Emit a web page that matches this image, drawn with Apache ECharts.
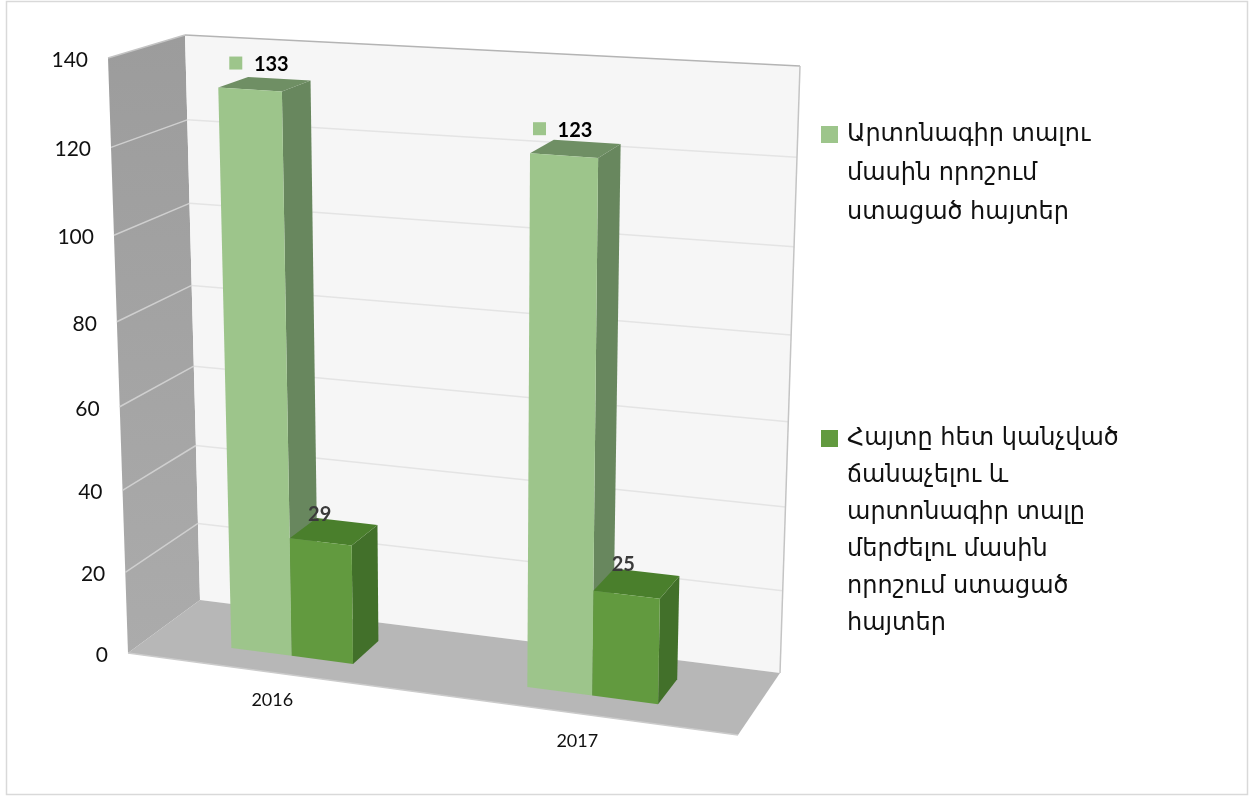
<!DOCTYPE html>
<html>
<head>
<meta charset="utf-8">
<style>
  html, body { margin: 0; padding: 0; background: #fff; }
  #chart { width: 1255px; height: 798px; }
</style>
<script src="https://cdn.jsdelivr.net/npm/echarts@6/dist/echarts.min.js"></script>
</head>
<body>
<div id="chart"></div>
<script>
const categories = ['2016', '2017'];
const yTicks = [0, 20, 40, 60, 80, 100, 120, 140];
const grantedValues = [133, 123];
const rejectedValues = [29, 25];
const grantedName = 'Արտոնագիր տալու մասին որոշում ստացած հայտեր';
const rejectedName = 'Հայտը հետ կանչված ճանաչելու և արտոնագիր տալը մերժելու մասին որոշում ստացած հայտեր';
const grantedLines = ['Արտոնագիր տալու', 'մասին որոշում', 'ստացած հայտեր'];
const rejectedLines = ['Հայտը հետ կանչված', 'ճանաչելու և', 'արտոնագիր տալը', 'մերժելու մասին', 'որոշում ստացած', 'հայտեր'];

// corners of the 3d box on screen, the plot is bent onto them
const front = { tl: [108, 58], tr: [752, 99], bl: [128, 653], br: [738, 735] };
const back = { tl: [185, 35], tr: [800, 66], bl: [200, 600], br: [780, 673] };
const barHalf = 0.105;
const barNear = 0.3;
const barFar = 0.71;
const labelFont = 'Lato, "Liberation Sans", sans-serif';
const legendFont = '"DejaVu Sans", sans-serif';

function mix(a, b, t) {
  return [a[0] + (b[0] - a[0]) * t, a[1] + (b[1] - a[1]) * t];
}

function project(u, v, d) {
  // small correction, the original has real perspective
  const uu = u - 0.072 * u * (1 - u);
  const vv = v - 0.06 * v * (1 - v);
  const f = mix(mix(front.bl, front.br, uu), mix(front.tl, front.tr, uu), vv);
  const b = mix(mix(back.bl, back.br, uu), mix(back.tl, back.tr, uu), vv);
  return mix(f, b, d);
}

function normalize(params, api, cat, val) {
  const cs = params.coordSys;
  const p = api.coord([cat, val]);
  return [(p[0] - cs.x) / cs.width, (cs.y + cs.height - p[1]) / cs.height];
}

function poly(points, fill) {
  return { type: 'polygon', shape: { points: points }, style: { fill: fill } };
}

function line(a, b, color, width) {
  return {
    type: 'line',
    shape: { x1: a[0], y1: a[1], x2: b[0], y2: b[1] },
    style: { stroke: color, lineWidth: width }
  };
}

function label(text, x, y, size, weight, color) {
  return {
    type: 'text',
    style: {
      text: text, x: x, y: y, fill: color,
      fontFamily: labelFont, fontSize: size, fontWeight: weight,
      textAlign: 'center', textVerticalAlign: 'middle'
    }
  };
}

function renderBox(params, api) {
  const sideWall = new echarts.graphic.LinearGradient(0, 0, 0, 1, [
    { offset: 0, color: '#9c9c9c' },
    { offset: 1, color: '#ababab' }
  ]);
  const children = [
    poly([project(0, 0, 0), project(0, 1, 0), project(0, 1, 1), project(0, 0, 1)], sideWall),
    poly([project(0, 0, 1), project(0, 1, 1), project(1, 1, 1), project(1, 0, 1)], '#f6f6f6'),
    poly([project(0, 0, 0), project(0, 0, 1), project(1, 0, 1), project(1, 0, 0)], '#b7b7b7')
  ];
  yTicks.forEach(function (t) {
    const v = normalize(params, api, 0, t)[1];
    if (t > 0 && t < 140) {
      children.push(line(project(0, v, 0), project(0, v, 1), '#cfcfcf', 1.5));
      children.push(line(project(0, v, 1), project(1, v, 1), '#e4e4e4', 1.5));
    }
    const p = project(0, v, 0);
    children.push({
      type: 'text',
      style: {
        text: String(t), x: p[0] - 20, y: p[1] + 2, fill: '#111',
        fontFamily: labelFont, fontSize: 21, textAlign: 'right', textVerticalAlign: 'middle'
      }
    });
  });
  children.push(line(project(0, 1, 0), project(0, 1, 1), '#c4c4c4', 1.5));
  children.push(line(project(0, 1, 1), project(1, 1, 1), '#b4b4b4', 1.5));
  children.push(line(project(1, 1, 1), project(1, 0, 1), '#c4c4c4', 1.5));
  children.push(line(project(0, 0, 0), project(1, 0, 0), '#cbcbcb', 1.5));
  categories.forEach(function (c, i) {
    const u = normalize(params, api, i, 0)[0];
    const p = project(u, 0, 0);
    children.push(label(c, p[0], p[1] + 28, 18, 'normal', '#111'));
  });
  return { type: 'group', children: children };
}

function barShape(u0, u1, v, colors) {
  return [
    poly([project(u1, 0, barNear), project(u1, 0, barFar), project(u1, v, barFar), project(u1, v, barNear)], colors.side),
    poly([project(u0, v, barNear), project(u0, v, barFar), project(u1, v, barFar), project(u1, v, barNear)], colors.top),
    poly([project(u0, 0, barNear), project(u0, v, barNear), project(u1, v, barNear), project(u1, 0, barNear)], colors.face)
  ];
}

const grantedColors = { face: '#9dc58b', top: '#6f8f64', side: '#68875e' };
const rejectedColors = { face: '#629a3f', top: '#4a7f2c', side: '#42702a' };

function renderGranted(params, api) {
  const i = api.value(0);
  const n = normalize(params, api, i, api.value(1));
  const children = barShape(n[0] - barHalf, n[0], n[1], grantedColors);
  const a = project(n[0] - barHalf, n[1], barNear);
  const nudge = [8, 0][i];
  children.push({
    type: 'rect',
    shape: { x: a[0] + 3 + nudge, y: a[1] - 31, width: 13, height: 13 },
    style: { fill: grantedColors.face }
  });
  children.push(label(String(api.value(1)), a[0] + 45 + nudge, a[1] - 23, 20, 'bold', '#000'));
  return { type: 'group', children: children };
}

function renderRejected(params, api) {
  const i = api.value(0);
  const n = normalize(params, api, i, api.value(1));
  const children = barShape(n[0], n[0] + barHalf, n[1], rejectedColors);
  const a = project(n[0], n[1], barFar);
  const nudge = [3, 9][i];
  children.push(label(String(api.value(1)), a[0] + nudge, a[1] - 4, 20, 'bold', '#3a3a3a'));
  return { type: 'group', children: children };
}

// blank lines first, so that the key sits beside the first text line
function legendText(lines) {
  return new Array(lines.length - 1).fill('').concat(lines).join('\n');
}

const chart = echarts.init(document.getElementById('chart'));
chart.setOption({
  animation: false,
  backgroundColor: '#fff',
  graphic: [{
    type: 'rect',
    shape: { x: 6.5, y: 1.5, width: 1241, height: 793 },
    style: { fill: 'none', stroke: '#d9d9d9', lineWidth: 1.5 },
    z: -10
  }],
  grid: { left: 128, right: 517, top: 59, bottom: 145 },
  xAxis: {
    type: 'category',
    data: categories,
    axisLine: { show: false },
    axisTick: { show: false },
    axisLabel: { show: false }
  },
  yAxis: {
    type: 'value',
    min: 0,
    max: 140,
    interval: 20,
    axisLine: { show: false },
    axisTick: { show: false },
    axisLabel: { show: false },
    splitLine: { show: false }
  },
  legend: [{
    left: 821,
    top: 37,
    padding: 0,
    data: [grantedName],
    icon: 'rect',
    itemWidth: 17,
    itemHeight: 17,
    itemGap: 0,
    selectedMode: false,
    formatter: function () { return legendText(grantedLines); },
    textStyle: { fontFamily: legendFont, fontSize: 24, lineHeight: 39, color: '#111', padding: [0, 0, 0, 4] }
  }, {
    left: 821,
    top: 235,
    padding: 0,
    data: [rejectedName],
    icon: 'rect',
    itemWidth: 17,
    itemHeight: 17,
    itemGap: 0,
    selectedMode: false,
    formatter: function () { return legendText(rejectedLines); },
    textStyle: { fontFamily: legendFont, fontSize: 24, lineHeight: 37, color: '#111', padding: [0, 0, 0, 4] }
  }],
  series: [{
    type: 'custom',
    name: 'box',
    silent: true,
    data: [[0, 0]],
    renderItem: renderBox
  }, {
    type: 'custom',
    name: grantedName,
    silent: true,
    itemStyle: { color: grantedColors.face },
    data: grantedValues.map(function (v, i) { return [i, v]; }),
    renderItem: renderGranted
  }, {
    type: 'custom',
    name: rejectedName,
    silent: true,
    itemStyle: { color: rejectedColors.face },
    data: rejectedValues.map(function (v, i) { return [i, v]; }),
    renderItem: renderRejected
  }]
});
</script>
</body>
</html>
